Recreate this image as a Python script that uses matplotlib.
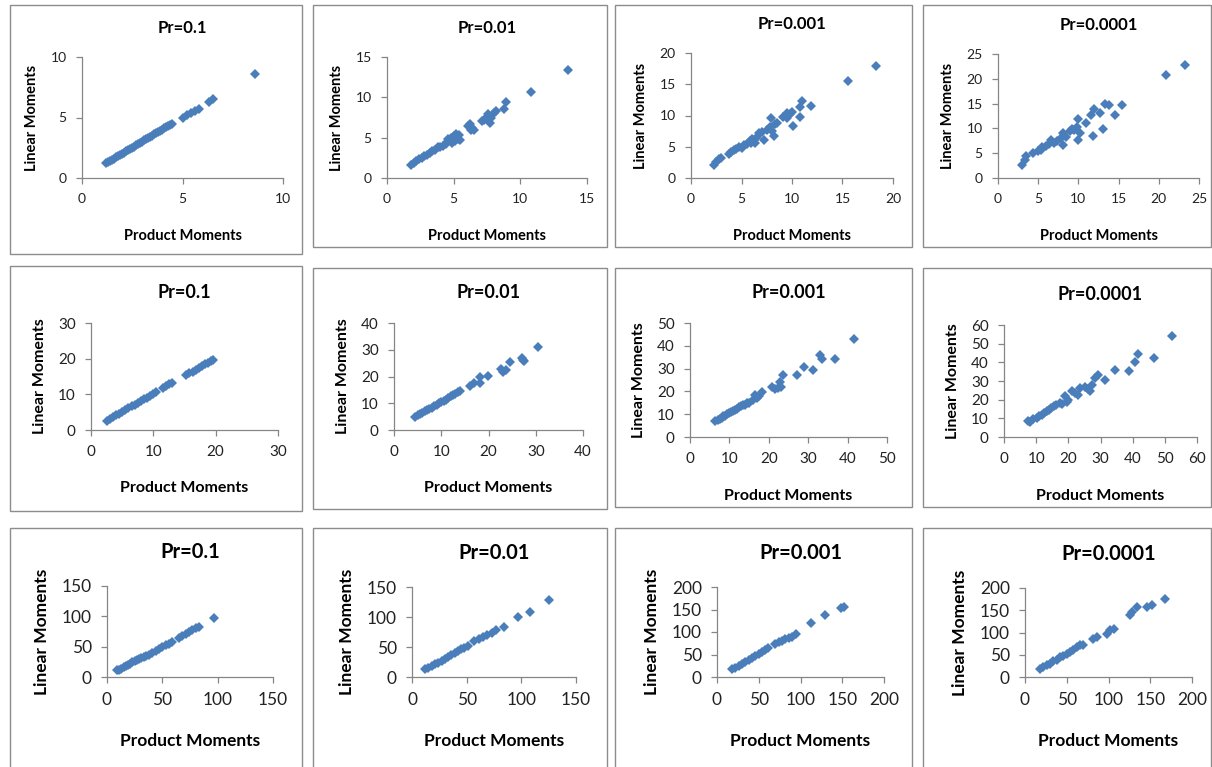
import matplotlib
matplotlib.use('Agg')
import matplotlib.pyplot as plt
from matplotlib.patches import Rectangle

plt.rcParams['font.family'] = ['Lato', 'DejaVu Sans']

W, H = 1212, 767

# Panel data: product moments (x) vs linear moments (y)
titles = ['Pr=0.1', 'Pr=0.01', 'Pr=0.001', 'Pr=0.0001'] * 3

x1 = [1.2, 1.3, 1.4, 1.5, 1.6, 1.7, 1.8, 1.9, 2.0, 2.1, 2.2, 2.3, 2.4, 2.5, 2.6, 2.7,
      2.8, 2.9, 3.0, 3.1, 3.2, 3.3, 3.4, 3.5, 3.6, 3.7, 3.8, 3.9, 4.0, 4.1, 4.2, 4.3,
      4.4, 4.5, 5.0, 5.2, 5.4, 5.6, 5.8, 6.3, 6.5, 8.6]
y1 = [1.2, 1.3, 1.4, 1.5, 1.6, 1.7, 1.8, 1.9, 2.0, 2.1, 2.2, 2.3, 2.4, 2.5, 2.6, 2.7,
      2.8, 2.9, 3.0, 3.1, 3.2, 3.3, 3.4, 3.5, 3.6, 3.7, 3.8, 3.9, 4.0, 4.1, 4.2, 4.3,
      4.4, 4.5, 5.0, 5.2, 5.4, 5.5, 5.7, 6.3, 6.5, 8.6]

x2 = [1.8, 2.0, 2.2, 2.4, 2.6, 2.8, 3.0, 3.2, 3.4, 3.6, 3.8, 4.0, 4.2, 4.4,
      4.5, 4.6, 4.8, 4.9, 5.0, 5.1, 5.2, 5.3, 5.4, 5.5,
      6.1, 6.2, 6.3, 6.4, 6.5, 7.1, 7.3, 7.5, 7.6, 7.7, 7.8, 8.0, 8.2,
      8.8, 8.9, 10.8, 13.6]
y2 = [1.6, 1.9, 2.1, 2.3, 2.5, 2.7, 2.9, 3.1, 3.3, 3.5, 3.8, 3.9, 4.0, 4.2,
      4.5, 4.8, 5.0, 4.4, 5.2, 4.6, 5.5, 4.8, 5.3, 4.7,
      6.5, 6.7, 6.0, 6.2, 5.9, 7.1, 7.2, 7.6, 7.9, 6.8, 7.4, 8.0, 8.3,
      8.6, 9.4, 10.7, 13.4]

x3 = [2.3, 2.5, 2.8, 3.0, 3.8, 4.0, 4.3, 4.5, 4.8, 5.0, 5.2, 5.5, 5.8, 5.9, 6.0,
      6.2, 6.3, 6.5, 6.7, 7.0, 7.2, 7.5, 7.8, 7.9, 8.0, 8.2, 8.3, 8.5, 9.1, 9.5,
      9.5, 9.8, 10.0, 10.1, 10.8, 10.8, 11.0, 11.9, 15.5, 18.3]
y3 = [2.1, 2.6, 3.0, 3.2, 3.8, 4.2, 4.5, 4.7, 5.0, 4.8, 5.3, 5.4, 6.0, 5.6, 6.3,
      6.1, 5.6, 6.6, 7.2, 7.3, 6.1, 7.7, 8.1, 9.6, 7.5, 6.7, 8.6, 8.8, 9.8, 10.4,
      9.6, 10.2, 10.5, 8.3, 11.4, 9.8, 12.3, 11.6, 15.5, 18.0]

x4 = [3.0, 3.3, 3.5, 4.4, 5.0, 5.4, 5.5, 6.0, 6.3, 6.6, 7.0, 7.3, 7.8, 8.1, 8.1,
      8.5, 8.9, 9.2, 9.5, 9.8, 10.0, 10.0, 10.2, 11.0, 11.6, 11.8, 12.0, 12.7,
      13.0, 13.3, 13.8, 14.5, 15.4, 20.9, 23.2]
y4 = [2.7, 3.7, 4.5, 5.0, 5.4, 5.7, 6.2, 6.4, 6.9, 7.7, 7.1, 7.4, 8.0, 9.1, 6.7,
      8.2, 9.4, 9.9, 9.7, 10.3, 11.9, 7.7, 9.0, 11.1, 12.8, 8.4, 13.9, 13.1,
      9.9, 15.0, 14.8, 12.8, 14.8, 20.7, 22.8]

x5 = [2.5, 3.0, 3.5, 4.0, 4.5, 5.0, 5.5, 6.0, 6.5, 7.0, 7.5, 8.0, 8.5, 9.0, 9.5,
      10.0, 10.5, 11.5, 12.0, 12.5, 13.0, 15.3, 15.8, 16.3, 16.8, 17.3, 17.8,
      18.3, 18.8, 19.3, 19.6]
y5 = [2.6, 3.1, 3.6, 4.1, 4.6, 5.1, 5.6, 6.1, 6.6, 7.1, 7.6, 8.1, 8.6, 9.1, 9.6,
      10.1, 10.6, 11.8, 12.3, 12.8, 13.2, 15.5, 16.0, 16.4, 16.9, 17.4, 17.9,
      18.4, 18.9, 19.4, 19.7]

x6 = [4.5, 5.0, 5.5, 6.0, 6.5, 7.0, 7.5, 8.0, 8.5, 9.0, 9.5, 10.0, 10.5, 11.0,
      11.5, 12.0, 12.5, 13.0, 13.5, 14.0, 16.1, 17.0, 18.2, 18.2, 19.9, 22.7,
      23.0, 23.8, 24.5, 27.0, 27.3, 27.6, 30.5]
y6 = [5.0, 5.5, 6.0, 6.5, 7.0, 7.4, 8.0, 8.4, 9.0, 9.4, 10.0, 10.4, 11.0, 11.4,
      12.0, 12.6, 13.0, 13.6, 14.1, 14.6, 16.3, 17.5, 20.0, 17.5, 20.3, 22.8,
      21.8, 22.5, 25.5, 27.0, 26.3, 25.8, 31.0]

x7 = [6.3, 7.0, 7.5, 8.0, 8.5, 9.0, 9.5, 10.0, 10.5, 11.0, 11.5, 12.0, 12.5,
      13.0, 13.5, 14.0, 14.4, 15.0, 16.0, 16.5, 17.0, 17.5, 18.2, 20.9, 21.5,
      22.4, 22.8, 23.2, 23.6, 27.2, 28.9, 31.3, 33.0, 33.4, 36.7, 41.6]
y7 = [6.8, 7.4, 8.0, 8.5, 9.0, 9.4, 10.0, 10.5, 11.0, 11.5, 12.0, 12.5, 13.0,
      13.5, 14.0, 14.2, 14.8, 15.0, 16.3, 18.5, 17.0, 18.0, 19.9, 22.1, 21.0,
      21.4, 24.3, 22.1, 27.2, 27.2, 30.5, 29.4, 35.9, 34.4, 34.4, 42.9]

x8 = [7.5, 8.1, 9.0, 10.2, 11.0, 11.7, 12.5, 13.3, 14.0, 14.5, 15.4, 16.3,
      17.4, 18.0, 19.0, 19.5, 20.0, 21.1, 22.1, 23.0, 23.7, 25.2, 26.0, 26.8,
      27.5, 28.3, 29.1, 31.5, 34.6, 39.0, 40.8, 41.6, 46.5, 52.2]
y8 = [8.5, 8.0, 9.5, 10.1, 11.2, 11.9, 12.8, 13.7, 14.5, 15.5, 16.4, 17.0,
      18.1, 17.6, 21.7, 19.0, 19.9, 24.4, 23.5, 22.5, 26.2, 27.0, 25.5, 24.4,
      28.0, 31.5, 33.3, 30.6, 35.9, 35.1, 40.4, 44.5, 42.2, 54.1]

x9 = [9, 11, 13, 15, 17, 19, 21, 23, 25, 27, 29, 31, 33, 35, 38, 41, 44, 47,
      50, 53, 56, 59, 65, 68, 71, 74, 77, 80, 83, 97]
y9 = [11, 12, 14, 16, 18, 20, 22, 24, 26, 28, 29, 31, 33, 35, 37, 40, 43, 46,
      49, 52, 55, 58, 65, 68, 71, 74, 77, 80, 83, 97]

x10 = [12, 15, 18, 21, 24, 27, 30, 33, 36, 39, 42, 45, 48, 51, 57, 61, 65, 69,
       73, 77, 84, 97, 108, 125]
y10 = [13, 15, 18, 21, 24, 27, 30, 33, 37, 40, 43, 46, 49, 52, 60, 63, 67, 70,
       74, 78, 83, 100, 109, 128]

x11 = [18, 22, 26, 30, 34, 38, 42, 46, 50, 54, 58, 61, 70, 74, 78, 82, 86, 90,
       95, 113, 129, 148, 152]
y11 = [18, 21, 25, 30, 34, 38, 42, 46, 51, 56, 61, 64, 74, 77, 81, 84, 87, 89,
       96, 121, 137, 153, 156]

x12 = [18, 22, 26, 30, 34, 38, 42, 46, 50, 54, 58, 62, 66, 70, 82, 86, 98, 102,
       106, 126, 128, 134, 146, 152, 168]
y12 = [19, 22, 26, 30, 35, 39, 44, 47, 52, 56, 61, 67, 72, 71, 86, 90, 97, 105,
       108, 139, 146, 157, 157, 162, 176]

xs = [x1, x2, x3, x4, x5, x6, x7, x8, x9, x10, x11, x12]
ys = [y1, y2, y3, y4, y5, y6, y7, y8, y9, y10, y11, y12]

axis_max = [10, 15, 20, 25, 30, 40, 50, 60, 150, 150, 200, 200]
axis_step = [5, 5, 5, 5, 10, 10, 10, 10, 50, 50, 50, 50]

# layout in pixels: outer box (l, t, r, b) and plot area (l, t, r, b)
boxes = [(10, 5, 302, 254), (313, 5, 607, 247), (615, 5, 912, 247), (923, 5, 1211, 247),
         (10, 266, 302, 511), (313, 268, 607, 509), (615, 268, 912, 507), (923, 268, 1211, 507),
         (10, 528, 302, 772), (313, 528, 607, 772), (615, 528, 912, 772), (923, 528, 1211, 772)]
areas = [(82, 57, 283, 178), (387, 57, 587, 178), (691, 53, 893, 178), (998, 54, 1199, 178),
         (91, 323, 278, 430), (394, 323, 583, 430), (690, 323, 887, 437), (1004, 325, 1197, 437),
         (107, 586, 273, 677), (412, 587, 576, 677), (717, 587, 884, 677), (1025, 588, 1192, 677)]

# font sizes per row: title, ticks, axis labels
row_fonts = [(12, 10, 10.5), (13, 11, 11.5), (14.5, 12.5, 12.5)]
title_pads = [17, 18, 20]
xlabel_pads = [17, 16, 18]

fig = plt.figure(figsize=(W / 100, H / 100), dpi=100)

for i in range(12):
    bl, bt, br, bb = boxes[i]
    fig.patches.append(Rectangle((bl / W, 1 - bb / H), (br - bl) / W, (bb - bt) / H,
                                 transform=fig.transFigure, fill=False,
                                 edgecolor='#8c8c8c', linewidth=1.0))

    l, t, r, b = areas[i]
    ax = fig.add_axes([l / W, 1 - b / H, (r - l) / W, (b - t) / H])
    row = i // 4
    fs_title, fs_tick, fs_label = row_fonts[row]
    ms = 4.8 if i < 8 else 5.2

    ax.plot(xs[i], ys[i], linestyle='none', marker='D', ms=ms,
            color='#4a7ebb', markeredgewidth=0)

    m = axis_max[i]
    ax.set_xlim(0, m)
    ax.set_ylim(0, m)
    ticks = list(range(0, m + 1, axis_step[i]))
    ax.set_xticks(ticks)
    ax.set_yticks(ticks)

    for side in ['top', 'right']:
        ax.spines[side].set_visible(False)
    for side in ['left', 'bottom']:
        ax.spines[side].set_color('#868686')
        ax.spines[side].set_linewidth(0.9)
    ax.tick_params(direction='out', length=4, width=0.9, color='#868686',
                   labelsize=fs_tick, labelcolor='#222222', pad=7)

    ax.set_title(titles[i], fontsize=fs_title, fontweight='bold', pad=title_pads[row])
    ax.set_xlabel('Product Moments', fontsize=fs_label, fontweight='bold',
                  labelpad=xlabel_pads[row])
    ax.set_ylabel('Linear Moments', fontsize=fs_label, fontweight='bold', labelpad=8)

plt.savefig('out.png', dpi=100)
